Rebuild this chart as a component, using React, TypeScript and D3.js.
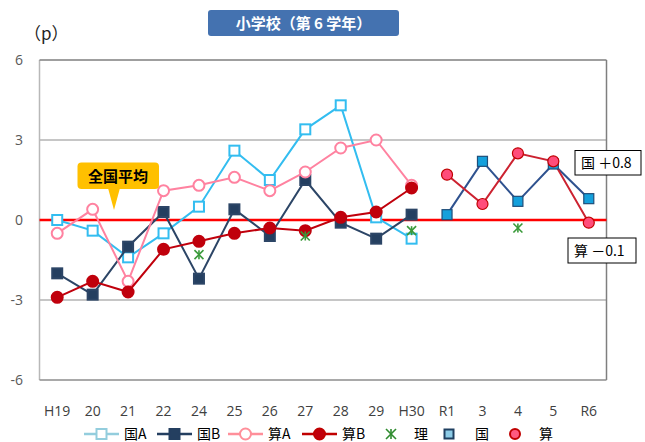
import React from 'react';
import * as d3 from 'd3';

// 年度 (x axis)
const categories = ['H19', '20', '21', '22', '24', '25', '26', '27', '28', '29', 'H30', 'R1', '3', '4', '5', 'R6'];
const oldCats = categories.slice(0, 11);
const newCats = categories.slice(11);

// 全国平均との差 (p)
const kokugoA = [0.0, -0.4, -1.4, -0.5, 0.5, 2.6, 1.5, 3.4, 4.3, 0.1, -0.7];
const kokugoB = [-2.0, -2.8, -1.0, 0.3, -2.2, 0.4, -0.6, 1.5, -0.1, -0.7, 0.2];
const sansuA = [-0.5, 0.4, -2.3, 1.1, 1.3, 1.6, 1.1, 1.8, 2.7, 3.0, 1.3];
const sansuB = [-2.9, -2.3, -2.7, -1.1, -0.8, -0.5, -0.3, -0.4, 0.1, 0.3, 1.2];
const rikaCats = ['24', '27', 'H30', '4'];
const rika = [-1.3, -0.6, -0.4, -0.3];
const kokugo = [0.2, 2.2, 0.7, 2.1, 0.8];
const sansu = [1.7, 0.6, 2.5, 2.2, -0.1];

const yTicks = [6, 3, 0, -3, -6];

const W = 645;
const H = 442;
const left = 39.5;
const right = 606.5;
const top = 60;
const bottom = 380;

const jp = '"Noto Sans CJK JP", "Noto Sans", sans-serif';
const num = '"Open Sans", "Noto Sans", sans-serif';

const x = d3.scalePoint<string>().domain(categories).range([left, right]).padding(0.5);
const y = d3.scaleLinear().domain([-6, 6]).range([bottom, top]);

const line = d3.line<[string, number]>()
  .x(d => x(d[0]) as number)
  .y(d => y(d[1]));

const zip = (cats: string[], vals: number[]) => cats.map((c, i) => [c, vals[i]] as [string, number]);

function Square({ cx, cy, s = 10, fill, stroke, sw = 2 }: any) {
  return <rect x={cx - s / 2} y={cy - s / 2} width={s} height={s} fill={fill} stroke={stroke} strokeWidth={sw} />;
}

function Circle({ cx, cy, r = 5.5, fill, stroke, sw = 2 }: any) {
  return <circle cx={cx} cy={cy} r={r} fill={fill} stroke={stroke} strokeWidth={sw} />;
}

function Star({ cx, cy, s = 5, color = '#3a9a3a' }: any) {
  return (
    <g stroke={color} strokeWidth={1.6}>
      <line x1={cx - s} y1={cy - s} x2={cx + s} y2={cy + s} />
      <line x1={cx - s} y1={cy + s} x2={cx + s} y2={cy - s} />
      <line x1={cx} y1={cy - s} x2={cx} y2={cy + s} />
    </g>
  );
}

const series = [
  { name: '国A', data: zip(oldCats, kokugoA), color: '#33bdf0', legendLine: '#93cddd', marker: 'sq', fill: '#fff' },
  { name: '国B', data: zip(oldCats, kokugoB), color: '#2c4566', legendLine: '#243f60', marker: 'sq', fill: '#243f60' },
  { name: '算A', data: zip(oldCats, sansuA), color: '#ff82a0', legendLine: '#ff8f9a', marker: 'ci', fill: '#fff' },
  { name: '算B', data: zip(oldCats, sansuB), color: '#c0000c', legendLine: '#c00000', marker: 'ci', fill: '#c0000c' },
];

function marker(kind: string, cx: number, cy: number, fill: string, stroke: string, key?: any) {
  return kind === 'sq'
    ? <Square key={key} cx={cx} cy={cy} fill={fill} stroke={stroke} />
    : <Circle key={key} cx={cx} cy={cy} fill={fill} stroke={stroke} />;
}

export default function App() {
  const kData = zip(newCats, kokugo);
  const sData = zip(newCats, sansu);
  const legendY = 434;

  return (
    <svg width={W} height={H} style={{ position: 'absolute', left: 0, top: 0, background: '#fff' }}>
      <rect width={W} height={H} fill="#fff" />

      {/* grid */}
      {yTicks.filter(t => t === 3 || t === -3).map(t => (
        <line key={t} x1={left} x2={right} y1={y(t)} y2={y(t)} stroke="#b3b3b3" strokeWidth={1.5} />
      ))}
      <line x1={left} x2={left} y1={top} y2={bottom} stroke="#b8b8b8" strokeWidth={1.5} />
      <line x1={left} x2={right} y1={top} y2={top} stroke="#7f7f7f" strokeWidth={1.5} />
      <line x1={right} x2={right} y1={top} y2={bottom} stroke="#7f7f7f" strokeWidth={1.5} />
      <line x1={left} x2={right} y1={bottom} y2={bottom} stroke="#8c8c8c" strokeWidth={1.5} />

      {/* y tick labels */}
      {yTicks.map(t => (
        <text key={t} x={23} y={y(t) + 5} textAnchor="end" fontFamily={num} fontSize={14} fill="#595959">{t}</text>
      ))}
      {/* x tick labels */}
      {categories.map(c => (
        <text key={c} x={x(c)} y={416} textAnchor="middle" fontFamily={num} fontSize={14} fill="#404040">{c}</text>
      ))}

      {/* 全国平均 zero line */}
      <line x1={left} x2={right} y1={y(0)} y2={y(0)} stroke="#ff0000" strokeWidth={2.5} />

      {/* old series */}
      {series.map(s => (
        <g key={s.name}>
          <path d={line(s.data) as string} fill="none" stroke={s.color} strokeWidth={2} />
          {s.data.map((d, i) => marker(s.marker, x(d[0]) as number, y(d[1]), s.fill, s.color, i))}
        </g>
      ))}

      {/* 理 */}
      {zip(rikaCats, rika).map((d, i) => <Star key={i} cx={x(d[0])} cy={y(d[1])} s={4.5} />)}

      {/* new series */}
      <path d={line(kData) as string} fill="none" stroke="#2f528f" strokeWidth={2} />
      <path d={line(sData) as string} fill="none" stroke="#cc2230" strokeWidth={2} />
      {kData.map((d, i) => <Square key={'k' + i} cx={x(d[0])} cy={y(d[1])} fill="#14a0dc" stroke="#1f4e79" sw={1.2} />)}
      {sData.map((d, i) => <Circle key={'s' + i} cx={x(d[0])} cy={y(d[1])} fill="#ff4d7a" stroke="#c00000" sw={1.2} />)}

      {/* callouts */}
      <rect x={575} y={150.5} width={66} height={24.5} fill="#fff" stroke="#000" strokeWidth={1} />
      <text x={581} y={168} fontFamily={jp} fontSize={14} fill="#000">国 ＋0.8</text>
      <rect x={568} y={238} width={68} height={25} fill="#fff" stroke="#000" strokeWidth={1} />
      <text x={574} y={256} fontFamily={jp} fontSize={14} fill="#000">算 －0.1</text>

      {/* 全国平均 label */}
      <rect x={77.5} y={162.5} width={81.5} height={26.5} rx={4} fill="#ffc000" />
      <path d={`M108,188 L114,${y(0) - 10} L120,188 Z`} fill="#ffc000" />
      <text x={118} y={182} textAnchor="middle" fontFamily={jp} fontSize={15} fontWeight="bold" fill="#000">全国平均</text>

      {/* title */}
      <rect x={208} y={10} width={191} height={26} rx={3} fill="#4472b0" />
      <text x={303.5} y={29} textAnchor="middle" fontFamily={jp} fontSize={15} fontWeight="bold" fill="#fff">小学校（第 6 学年）</text>

      {/* unit */}
      <text x={24} y={40} fontFamily={jp} fontSize={17} fill="#222">（p）</text>

      {/* legend */}
      <g fontFamily={jp} fontSize={14} fill="#000">
        {series.map((s, i) => {
          const lx = [84, 157, 228, 302][i];
          return (
            <g key={s.name}>
              <line x1={lx} x2={lx + 35} y1={legendY} y2={legendY} stroke={s.legendLine} strokeWidth={2.5} />
              {marker(s.marker, lx + 17.5, legendY, s.fill, s.legendLine)}
              <text x={lx + 40} y={legendY + 5}>{s.name}</text>
            </g>
          );
        })}
        <Star cx={391} cy={legendY} s={5} color="#2e8b2e" />
        <text x={414} y={legendY + 5}>理</text>
        <Square cx={449} cy={legendY} s={9} fill="#8ccbe6" stroke="#1f3f60" sw={2} />
        <text x={475} y={legendY + 5}>国</text>
        <Circle cx={515} cy={legendY} r={5} fill="#ff5a80" stroke="#c00000" sw={2} />
        <text x={539} y={legendY + 5}>算</text>
      </g>
    </svg>
  );
}
